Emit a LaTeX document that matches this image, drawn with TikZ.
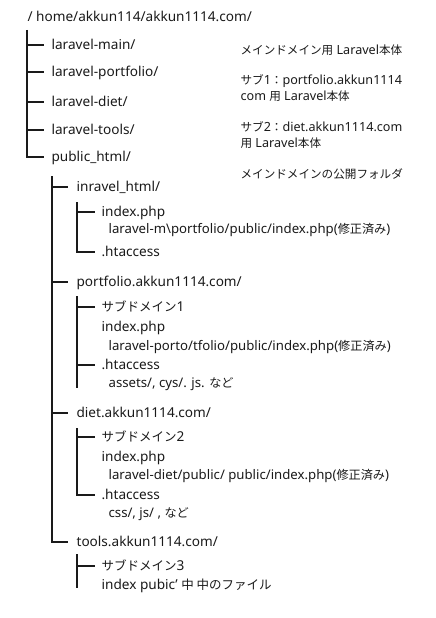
\documentclass[tikz,border=0pt]{standalone}
\usepackage{fontspec}
\setmainfont{Noto Sans}
\newfontfamily\cjk[Scale=0.92]{Noto Sans CJK JP}
\newcommand\jp[1]{{\cjk #1}}
\definecolor{ink}{HTML}{1A1A1A}
\begin{document}
\begin{tikzpicture}[x=1pt,y=-1pt,
  line width=1.2pt,
  conn/.style={draw=ink, line width=1.2pt},
  tree/.style={anchor=west, inner sep=0pt, text=ink, font=\fontsize{13.6}{15}\selectfont, text height=9.8pt, text depth=0.5pt},
  desc/.style={anchor=west, inner sep=0pt, text=ink, font=\fontsize{13.2}{15}\selectfont, text height=9.5pt, text depth=0.5pt},
  note/.style={anchor=west, inner sep=0pt, text=ink, font=\fontsize{12.6}{16}\selectfont, align=left}]
\useasboundingbox[fill=white] (0,0) rectangle (436,618);

% root
\node[tree] (root) at (27,17) {/ home/akkun114/akkun1114.com/};

% level 1
\node[tree] (lmain) at (51,45) {laravel-main/};
\node[tree] (lport) at (51,72) {laravel-portfolio/};
\node[tree] (ldiet) at (51,102) {laravel-diet/};
\node[tree] (ltools) at (51,130) {laravel-tools/};
\node[tree] (public) at (51,157) {public\_html/};

% annotations
\node[note] (n1) at (240,50) {\jp{メインドメイン用} Laravel\jp{本体}};
\node[note] (n2) at (240,88) {\jp{サブ}1\jp{：}portfolio.akkun1114\\com \jp{用} Laravel\jp{本体}};
\node[note] (n3) at (240,135) {\jp{サブ}2\jp{：}diet.akkun1114.com\\\jp{用} Laravel\jp{本体}};
\node[note] (n4) at (240,174) {\jp{メインドメインの公開フォルダ}};

% level 2
\node[tree] (inravel) at (76,187) {inravel\_html/};
\node[tree] (portdir) at (76,282) {portfolio.akkun1114.com/};
\node[tree] (dietdir) at (76,413) {diet.akkun1114.com/};
\node[tree] (toolsdir) at (76,542) {tools.akkun1114.com/};

% inravel_html children
\node[tree] (idx1) at (101,212) {index.php};
\node[desc] (d1) at (108,229) {laravel-m\textbackslash portfolio/public/index.php(\jp{修正済み})};
\node[tree] (ht1) at (101,252) {.htaccess};

% portfolio children
\node[tree] (sub1) at (101,307) {\jp{サブドメイン}1};
\node[tree] (idx2) at (101,327) {index.php};
\node[desc] (d2) at (108,346) {laravel-porto/tfolio/public/index.php(\jp{修正済み})};
\node[tree] (ht2) at (101,365) {.htaccess};
\node[desc] (d2b) at (108,383) {assets/, cys/. js. \jp{など}};

% diet children
\node[tree] (sub2) at (101,437) {\jp{サブドメイン}2};
\node[tree] (idx3) at (101,457) {index.php};
\node[desc] (d3) at (108,475) {laravel-diet/public/ public/index.php(\jp{修正済み})};
\node[tree] (ht3) at (101,495) {.htaccess};
\node[desc] (d3b) at (108,513) {css/, js/ , \jp{など}};

% tools children
\node[tree] (sub3) at (101,566) {\jp{サブドメイン}3};
\node[tree] (idx4) at (101,585) {index pubic’ \jp{中 中のファイル}};

% coordinates for vertical lines
\coordinate (v0) at (27,30);
\coordinate (v1) at (52,176);
\coordinate (v2) at (77,202);
\coordinate (v3) at (77,296);
\coordinate (v3e) at (77,388);
\coordinate (v4) at (77,428);
\coordinate (v5) at (77,554);
\coordinate (v5e) at (77,588);

% level 1 connectors
\draw[conn] (v0) |- ([xshift=-7pt]public.west);
\foreach \n in {lmain,lport,ldiet,ltools}
  \draw[conn] (v0 |- \n.west) -- ([xshift=-7pt]\n.west);

% level 2 connectors
\draw[conn] (v1) |- ([xshift=-8pt]toolsdir.west);
\foreach \n in {inravel,portdir,dietdir}
  \draw[conn] (v1 |- \n.west) -- ([xshift=-8pt]\n.west);

% inravel_html
\draw[conn] (v2) |- ([xshift=-6pt]ht1.west);
\draw[conn] (v2 |- idx1.west) -- ([xshift=-6pt]idx1.west);

% portfolio
\draw[conn] (v3) -- (v3e);
\foreach \n in {sub1,ht2}
  \draw[conn] (v3 |- \n.west) -- ([xshift=-6pt]\n.west);

% diet
\draw[conn] (v4) |- ([xshift=-6pt]ht3.west);
\draw[conn] (v4 |- sub2.west) -- ([xshift=-6pt]sub2.west);

% tools
\draw[conn] (v5) -- (v5e);
\draw[conn] (v5 |- sub3.west) -- ([xshift=-6pt]sub3.west);
\end{tikzpicture}
\end{document}
